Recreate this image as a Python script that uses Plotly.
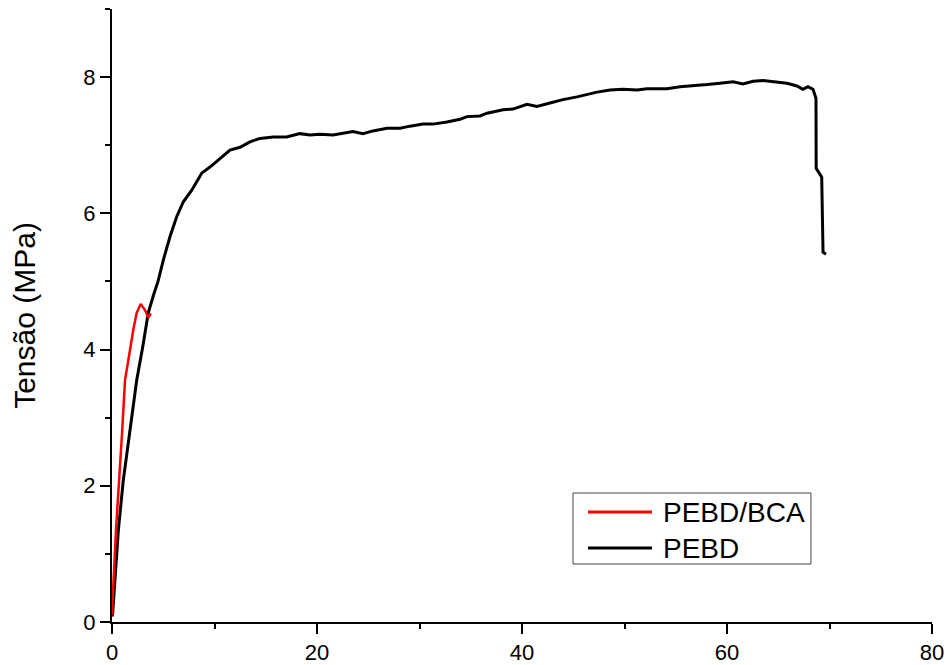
import plotly.graph_objects as go

# PEBD (black) stress-strain curve
pebd_x = [0.0, 0.07, 0.29, 0.62, 1.10, 1.76, 2.41, 3.00, 3.54, 4.05, 4.49, 5.00, 5.66, 6.31, 6.96, 7.78,
          8.75, 9.56, 10.54, 11.51, 12.49, 13.46, 14.44, 15.74, 17.04, 18.34, 19.32, 20.29,
          21.56, 22.54, 23.51, 24.49, 25.46, 26.83, 28.10, 29.07, 30.34, 31.32, 32.68, 33.95,
          34.63, 35.90, 36.59, 38.15, 39.12, 40.49, 41.46, 42.73, 44.00, 45.37, 46.63, 47.32,
          48.59, 49.85, 51.22, 52.20, 52.78, 54.15, 55.41, 56.68, 58.05, 59.32, 60.59, 61.56,
          62.54, 63.51, 64.49, 65.85, 66.83, 67.41, 67.90, 68.39, 68.68, 68.70, 69.24, 69.37, 69.66]
pebd_y = [0.08, 0.13, 0.62, 1.35, 2.08, 2.82, 3.55, 4.04, 4.54, 4.80, 5.00, 5.31, 5.66, 5.95, 6.17, 6.34,
          6.59, 6.68, 6.81, 6.93, 6.97, 7.05, 7.10, 7.12, 7.12, 7.17, 7.15, 7.16,
          7.15, 7.17, 7.20, 7.17, 7.21, 7.25, 7.25, 7.28, 7.31, 7.31, 7.34, 7.38,
          7.42, 7.43, 7.47, 7.52, 7.53, 7.60, 7.57, 7.62, 7.67, 7.71, 7.76, 7.78,
          7.81, 7.82, 7.81, 7.83, 7.83, 7.83, 7.86, 7.87, 7.89, 7.91, 7.93, 7.90,
          7.94, 7.95, 7.93, 7.91, 7.87, 7.82, 7.86, 7.82, 7.69, 6.66, 6.53, 5.43, 5.40]

# PEBD/BCA (red) curve
bca_x = [0.0, 0.05, 0.39, 0.71, 1.00, 1.27, 1.76, 2.08, 2.41, 2.80, 3.22, 3.54, 3.80]
bca_y = [0.10, 0.30, 1.35, 2.08, 2.82, 3.55, 4.04, 4.29, 4.54, 4.67, 4.58, 4.47, 4.53]

legend_labels = ["PEBD/BCA", "PEBD"]
legend_colors = ["#ff0000", "#000000"]

x_ticks = [0, 20, 40, 60, 80]
y_ticks = [0, 2, 4, 6, 8]

FONT = "Liberation Sans, Arial, sans-serif"

fig = go.Figure()
fig.add_trace(go.Scatter(x=pebd_x, y=pebd_y, mode="lines", name="PEBD",
                         line=dict(color="#000000", width=3), showlegend=False))
fig.add_trace(go.Scatter(x=bca_x, y=bca_y, mode="lines", name="PEBD/BCA",
                         line=dict(color="#ff0000", width=2.5), showlegend=False))

# legend drawn as box
shapes = [dict(type="rect", xref="paper", yref="paper", x0=0.5622, x1=0.8524, y0=0.0946, y1=0.2104,
               line=dict(color="#444444", width=1), fillcolor="white", layer="above")]
annotations = []
for i, (lab, col) in enumerate(zip(legend_labels, legend_colors)):
    yy = [0.1794, 0.1207][i]
    shapes.append(dict(type="line", xref="paper", yref="paper", x0=0.5805, x1=0.6585, y0=yy, y1=yy,
                       line=dict(color=col, width=3), layer="above"))
    annotations.append(dict(xref="paper", yref="paper", x=0.6695, y=yy, text=lab, showarrow=False,
                            xanchor="left", yanchor="middle",
                            font=dict(family=FONT, size=28, color="black")))

fig.update_layout(
    width=949, height=665,
    margin=dict(l=112, r=17, t=9, b=43, autoexpand=False),
    paper_bgcolor="white", plot_bgcolor="white",
    font=dict(family=FONT, color="black"),
    shapes=shapes, annotations=annotations,
    xaxis=dict(range=[0, 80], tickvals=x_ticks, ticks="outside", ticklen=10, tickwidth=2,
               tickcolor="black", showline=True, linewidth=2, linecolor="black",
               showgrid=False, zeroline=False, tickfont=dict(size=22),
               minor=dict(dtick=10, tick0=0, ticks="outside", ticklen=5, tickwidth=2, tickcolor="black")),
    yaxis=dict(range=[0, 9], tickvals=y_ticks, ticks="outside", ticklen=10, tickwidth=2,
               tickcolor="black", showline=True, linewidth=2, linecolor="black",
               showgrid=False, zeroline=False, tickfont=dict(size=22),
               title=dict(text="Tensão (MPa)", font=dict(size=30), standoff=39),
               minor=dict(dtick=1, tick0=0, ticks="outside", ticklen=5, tickwidth=2, tickcolor="black")),
)

fig.write_html("out.html")
